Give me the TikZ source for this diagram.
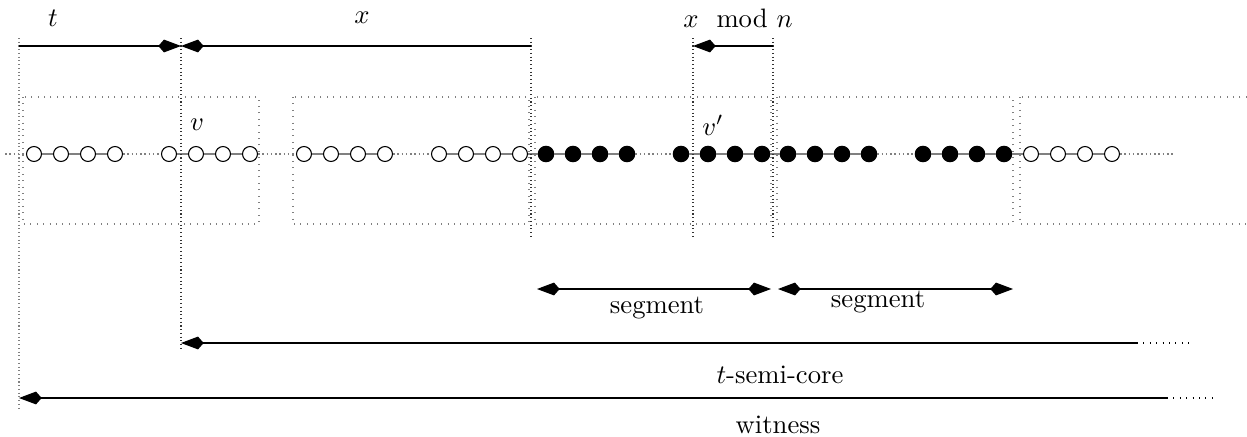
\documentclass[tikz,border=0pt]{standalone}
\usepackage{amsmath,amssymb}
\usepackage{tikz}
\usetikzlibrary{arrows.meta,calc}

\begin{document}
\begin{tikzpicture}[
    x=0.375pt, y=-0.375pt,
    open/.style={circle, draw, fill=white, inner sep=0pt, minimum size=5.6pt},
    full/.style={circle, draw, fill=black, inner sep=0pt, minimum size=5.8pt},
    block/.style={draw=gray, dotted},
    guide/.style={black!80, densely dotted, thin},
    link/.style={gray, semithick},
    gap/.style={gray, densely dotted, semithick},
    dim/.style={-{Kite[length=8.5pt,width=4.8pt]}, thin},
    both/.style={{Kite[length=8.5pt,width=4.8pt]}-{Kite[length=8.5pt,width=4.8pt]}, thin}
]
    \clip (0,0) rectangle (1247,436);

    % Blocks
    \foreach \L in {23,293,535,777,1020}
        \draw[block] (\L,97) rectangle ++(236,127);

    % Vertices of the chain
    \foreach \L/\b/\s in {23/1/open, 293/2/open, 535/3/full, 777/4/full}
        \foreach \d [count=\k] in {11,38,65,92,146,173,200,227}
            \node[\s] (c\b-\k) at (\L+\d,154) {};
    \foreach \d [count=\k] in {11,38,65,92}
        \node[open] (c5-\k) at (1020+\d,154) {};
    \coordinate (lend) at (5,154);
    \coordinate (rend) at (1173,154);

    % Links
    \foreach \b in {1,...,4} {
        \draw[link] (c\b-1) -- (c\b-2) -- (c\b-3) -- (c\b-4);
        \draw[gap] (c\b-4) -- (c\b-5);
        \draw[link] (c\b-5) -- (c\b-6) -- (c\b-7) -- (c\b-8);
    }
    \draw[link] (c5-1) -- (c5-2) -- (c5-3) -- (c5-4);
    \draw[gap] (lend) -- (c1-1);
    \draw[gap] (c1-8) -- (c2-1);
    \draw[link] (c2-8) -- (c3-1);
    \draw[link] (c3-8) -- (c4-1);
    \draw[link] (c4-8) -- (c5-1);
    \draw[gap] (c5-4) -- (rend);

    % Guide lines
    \coordinate (ga) at (19,46);
    \coordinate (gb) at (181,46);
    \coordinate (gc) at (531,46);
    \coordinate (gd) at (693,46);
    \coordinate (ge) at (773,46);
    \draw[guide, gray] (19,38) -- (19,408);
    \draw[guide] (181,38) -- (181,350);
    \draw[guide] (531,38) -- (531,236);
    \draw[guide] (693,38) -- (693,236);
    \draw[guide] (773,38) -- (773,236);

    % Dimensions on top
    \draw[dim] (ga) -- (gb);
    \draw[dim] (gc) -- (gb);
    \draw[dim] (ge) -- (gd);
    \node (tlab) at (53,18) {$t$};
    \node (xlab) at (362,18) {$x$};
    \node (xmod) at (738,18) {$x \mod n$};
    \node (vlab) at (197,125) {$v$};
    \node (vplab) at (713,125) {$v'$};

    % Segments
    \coordinate (s1a) at (537,289);
    \coordinate (s1b) at (771,289);
    \coordinate (s2a) at (778,289);
    \coordinate (s2b) at (1013,289);
    \draw[both] (s1a) -- (s1b);
    \draw[both] (s2a) -- (s2b);
    \node (seg1) at (657,308) {segment};
    \node (seg2) at (878,302) {segment};

    % Semi-core and witness
    \coordinate (sca) at (181,343);
    \coordinate (scb) at (1137,343);
    \coordinate (scc) at (1190,343);
    \draw[dim] (scb) -- (sca);
    \draw[dotted, thin] (scb) -- (scc);
    \node (sclab) at (780,375) {$t$-semi-core};
    \coordinate (wa) at (19,398);
    \coordinate (wb) at (1167,398);
    \coordinate (wc) at (1218,398);
    \draw[dim] (wb) -- (wa);
    \draw[dotted, thin] (wb) -- (wc);
    \node (wlab) at (778,425) {witness};
\end{tikzpicture}
\end{document}
